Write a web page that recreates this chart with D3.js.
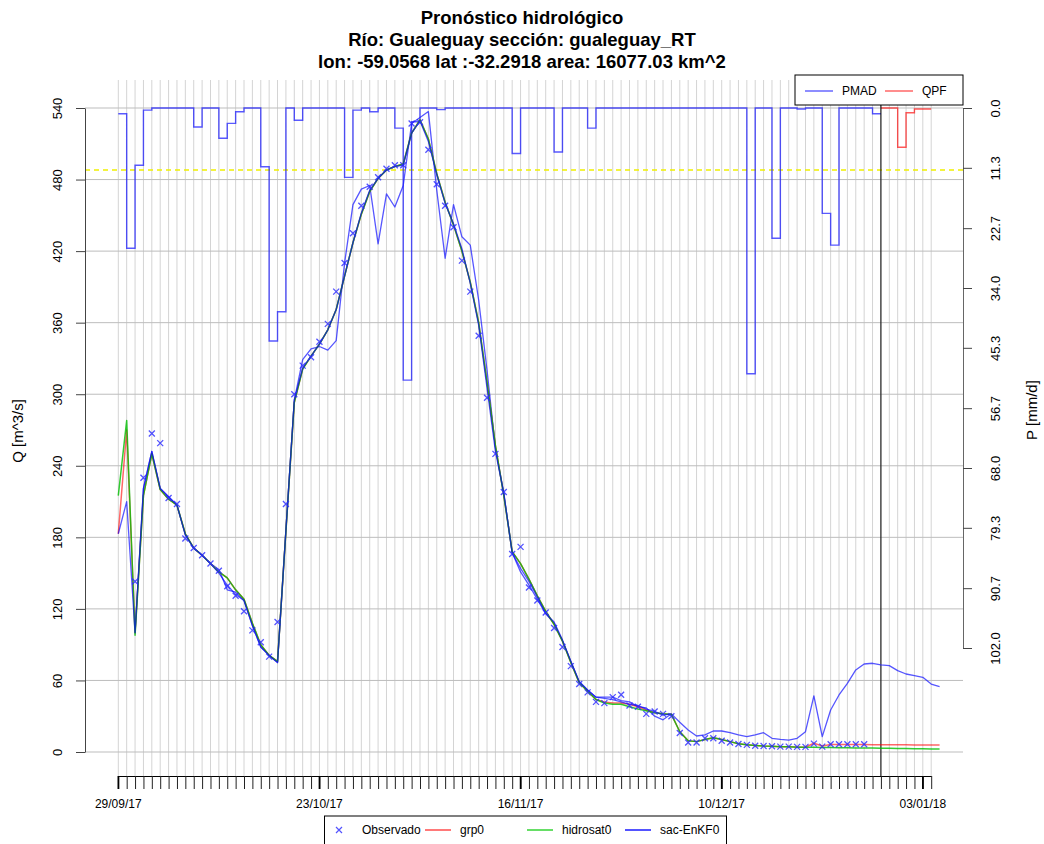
<!DOCTYPE html>
<html><head><meta charset="utf-8">
<script src="https://cdn.jsdelivr.net/npm/d3@7"></script>
<style>body{margin:0;background:#fff}text{font-family:"Liberation Sans",Arial,Helvetica,sans-serif}</style>
</head><body><svg id="c" width="1044" height="844"></svg>
<script>
// ---------------- data ----------------
const titleLines = ["Pronóstico hidrológico", "Río: Gualeguay sección: gualeguay_RT", "lon: -59.0568 lat :-32.2918 area: 16077.03 km^2"];
const startDate = Date.UTC(2017, 8, 29);
const lastGridDay = 97;
const tickDays = [0, 24, 48, 72, 96];
const tickLabels = ["29/09/17", "23/10/17", "16/11/17", "10/12/17", "03/01/18"];
const qTicks = [0, 60, 120, 180, 240, 300, 360, 420, 480, 540];
const pTicks = [0.0, 11.3, 22.7, 34.0, 45.3, 56.7, 68.0, 79.3, 90.7, 102.0];
const alertQ = 488;
const forecastDay = 91;
// PMAD daily precipitation, day 0..90
const pmad = [1.1, 26.5, 10.8, 0.4, 0, 0, 0, 0, 0, 3.6,
  0, 0, 5.7, 2.9, 0.7, 0, 0, 11.1, 44.0, 38.5,
  0, 2.3, 0, 0, 0, 0, 0, 13.1, 0.4, 0,
  0.7, 0, 0, 3.8, 51.4, 2.6, 0, 0, 0.3, 0,
  0, 0, 0, 0, 0, 0, 0, 8.6, 0, 0,
  0, 0, 8.3, 0, 0, 0, 3.8, 0, 0, 0,
  0, 0, 0, 0, 0, 0, 0, 0, 0, 0,
  0, 0, 0, 0, 0, 50.2, 0, 0, 24.6, 0,
  0, 0.2, 0, 0, 19.9, 25.9, 0, 0, 0, 0,
  1.1];
// QPF forecast precipitation, day 91..96
const qpfStart = 91;
const qpf = [0, 0, 7.4, 0.9, 0.2, 0.2];
// Observed discharge, day 0..89
const observado = [null, null, 143, 230, 267, 259, 213, 208, 179, 171,
  165, 158, 152, 139, 131, 118, 102, 92, 80, 109,
  208, 300, 324, 331, 344, 359, 386, 410, 435, 458,
  474, 482, 489, 492, 492, 527, 528, 505, 476, 458,
  440, 412, 386, 349, 297, 250, 218, 166, 172, 138,
  127, 117, 104, 88, 72, 57, 50, 42, 41, 46,
  48, 39, 38, 32, 34, 32, 30, 16, 8, 8,
  11.5, 11.5, 9.5, 8, 6.7, 6, 5.3, 5, 4.8, 4.5,
  4.5, 4.3, 4.3, 7, 4.5, 6.5, 6.5, 6.5, 6.5, 6.5];
// grp0, day 0..98
const grp0 = [183, 270, 100, 215, 250, 220, 212, 207, 183, 171,
  165, 158, 151, 146, 136, 128, 108, 90, 81, 76,
  185, 293, 321, 332, 342, 354, 371, 399, 427, 451,
  470, 481, 488, 491, 493, 519, 530, 514, 485, 461,
  442, 420, 394, 360, 310, 257, 215, 168, 158, 145,
  131, 118, 107, 93, 75, 58, 51, 44, 42, 41,
  41, 40, 38, 35, 33, 32, 31.5, 17, 9.5, 8.7,
  10.5, 12, 10.5, 8.7, 7, 6, 5.5, 5, 4.8, 4.5,
  4.3, 4.1, 4.0, 7.3, 5.0, 6.3, 6.3, 6.2, 6.2, 6.2,
  6.1, 6.1, 6.0, 6.0, 6.0, 5.9, 5.9, 5.9, 5.8];
// hidrosat0, day 0..98
const hidrosat0 = [215, 278, 98, 215, 250, 220, 212, 207, 183, 171,
  165, 158, 151, 146, 136, 128, 108, 90, 81, 76,
  185, 293, 321, 332, 342, 354, 371, 399, 427, 451,
  470, 481, 488, 491, 493, 519, 530, 514, 485, 461,
  442, 420, 394, 360, 310, 257, 215, 168, 158, 145,
  131, 118, 107, 93, 75, 58, 51, 44, 41, 40,
  40, 38, 36, 34.5, 33, 32, 31.5, 17, 9.5, 8.7,
  10.5, 12, 10.5, 8.7, 7, 6, 5.5, 5, 4.8, 4.5,
  4.3, 4.0, 3.9, 3.9, 3.8, 3.7, 3.6, 3.5, 3.4, 3.4,
  3.3, 3.2, 3.1, 3.0, 2.9, 2.8, 2.7, 2.6, 2.5];
// sac-EnKF0 (assimilated), day 0..66
const sacEnKF0 = [183, 210, 100, 221, 252, 221, 214, 207, 182, 171,
  165, 158, 150, 140, 132, 127, 106, 88, 81, 75,
  186, 295, 322, 332, 342, 354, 371, 399, 427, 452,
  471, 481, 488, 491, 492, 519, 529, 512, 484, 460,
  443, 422, 393, 358, 305, 252, 217, 167, 154, 143,
  130, 116, 109, 94, 76, 59, 52, 46, 45, 44,
  42, 40, 39, 36, 34, 31, 32];
// sac-EnKF0 simulation, day 2..98
const sacSimStart = 2;
const sacSim = [100, 221, 252, 221, 214, 207, 182, 171,
  165, 158, 153, 136, 134, 127, 106, 88, 81, 75,
  186, 295, 329, 338, 340, 337, 345, 410, 459, 472,
  475, 426, 468, 457, 475, 527, 532, 537, 471, 414,
  459, 432, 425, 379, 320, 255, 217, 167, 151, 140,
  128, 116, 108, 93, 76, 59, 52, 46, 46, 46,
  43, 42, 38, 37, 30, 27, 32, 25, 18.4, 13.4,
  14.3, 17.6, 17.6, 16.2, 14.3, 12.9, 14.3, 16.2, 11.5, 10.6,
  10, 11.5, 17, 47, 12.9, 35.2, 47.8, 57.6, 68.8, 73.8,
  74.4, 73, 72.4, 68.2, 65.4, 64, 62.6, 57, 54.8];

// ---------------- drawing ----------------
const svg = d3.select("#c");
const dayDate = d => new Date(startDate + d * 864e5);
const x = d3.scaleUtc().domain([dayDate(0), dayDate(lastGridDay)]).range([118.3, 931.2]);
const yQ = d3.scaleLinear().domain([0, 540]).range([752, 108]);
const yP = d3.scaleLinear().domain([0, 102]).range([108, 648]);
const leftX = 85, rightX = 963, axisY = 776;
const font = "'Liberation Sans',Arial,Helvetica,sans-serif";

// title
svg.append("g").selectAll("text").data(titleLines).join("text")
  .attr("x", 522).attr("y", (d, i) => 24 + i * 22)
  .attr("text-anchor", "middle").attr("font-weight", "bold")
  .attr("font-size", 18.5).text(d => d);

// vertical grid
const days = d3.range(0, lastGridDay + 1);
svg.append("g").selectAll("line").data(days).join("line")
  .attr("x1", d => x(dayDate(d))).attr("x2", d => x(dayDate(d)))
  .attr("y1", 80).attr("y2", axisY)
  .attr("stroke", "#d4d4d4").attr("stroke-width", 1);
// horizontal grid
svg.append("g").selectAll("line").data(qTicks).join("line")
  .attr("x1", leftX).attr("x2", rightX)
  .attr("y1", d => yQ(d)).attr("y2", d => yQ(d))
  .attr("stroke", "#bdbdbd").attr("stroke-width", 1);

// alert line
svg.append("line").attr("x1", leftX).attr("x2", rightX)
  .attr("y1", yQ(alertQ)).attr("y2", yQ(alertQ))
  .attr("stroke", "#f0f000").attr("stroke-width", 1.3).attr("stroke-dasharray", "5,4");

// precipitation steps
const stepLine = d3.line().x(d => x(dayDate(d[0]))).y(d => yP(d[1])).curve(d3.curveStepAfter);
const pmadPts = pmad.map((v, i) => [i, v]);
pmadPts.push([pmad.length, pmad[pmad.length - 1]]);
svg.append("path").attr("d", stepLine(pmadPts)).attr("fill", "none")
  .attr("stroke", "rgba(0,0,255,0.65)").attr("stroke-width", 1.4);
const qpfPts = qpf.map((v, i) => [qpfStart + i, v]);
qpfPts.push([qpfStart + qpf.length, qpf[qpf.length - 1]]);
svg.append("path").attr("d", stepLine(qpfPts)).attr("fill", "none")
  .attr("stroke", "rgba(255,0,0,0.65)").attr("stroke-width", 1.4);

// forecast time
svg.append("line").attr("x1", x(dayDate(forecastDay))).attr("x2", x(dayDate(forecastDay)))
  .attr("y1", 80).attr("y2", axisY).attr("stroke", "#000").attr("stroke-width", 1);

// discharge lines
const qLine = d3.line().defined(d => d[1] != null).x(d => x(dayDate(d[0]))).y(d => yQ(d[1]));
function drawQ(arr, start, color, w) {
  svg.append("path").attr("d", qLine(arr.map((v, i) => [start + i, v])))
    .attr("fill", "none").attr("stroke", color).attr("stroke-width", w).attr("stroke-linejoin", "round");
}
drawQ(sacSim, sacSimStart, "rgba(30,30,255,0.75)", 1.3);
drawQ(grp0, 0, "rgba(255,0,0,0.6)", 1.5);
drawQ(hidrosat0, 0, "rgba(0,190,0,0.8)", 1.5);
drawQ(sacEnKF0, 0, "rgba(0,0,255,0.65)", 1.3);

// observed markers
const obsPts = observado.map((v, i) => [i, v]).filter(d => d[1] != null);
const cross = s => `M${-s},${-s}L${s},${s}M${-s},${s}L${s},${-s}`;
svg.append("g").selectAll("path").data(obsPts).join("path")
  .attr("transform", d => `translate(${x(dayDate(d[0]))},${yQ(d[1])})`)
  .attr("d", cross(3)).attr("stroke", "rgba(40,40,255,0.8)").attr("stroke-width", 1.3).attr("fill", "none");

// left axis
const gl = svg.append("g").attr("transform", `translate(${leftX},0)`)
  .call(d3.axisLeft(yQ).tickValues(qTicks).tickSize(9).tickSizeOuter(0).tickFormat(d3.format("d")));
gl.select(".domain").attr("stroke", "#444");
gl.selectAll(".tick line").attr("stroke", "#444");
gl.selectAll(".tick text").attr("x", null).attr("dy", null)
  .attr("transform", "translate(-23,0) rotate(-90)").attr("text-anchor", "middle")
  .attr("font-size", 13).attr("font-family", font).attr("fill", "#000");

// right axis
const gr = svg.append("g").attr("transform", `translate(${rightX},0)`)
  .call(d3.axisRight(yP).tickValues(pTicks).tickSize(9).tickSizeOuter(0).tickFormat(d3.format(".1f")));
gr.select(".domain").attr("stroke", "#666");
gr.selectAll(".tick line").attr("stroke", "#444");
gr.selectAll(".tick text").attr("x", null).attr("dy", null)
  .attr("transform", "translate(37,0) rotate(-90)").attr("text-anchor", "middle")
  .attr("font-size", 13).attr("font-family", font).attr("fill", "#000");

// bottom axis (daily ticks, labels every 24 days)
const gb = svg.append("g").attr("transform", `translate(0,${axisY})`)
  .call(d3.axisBottom(x).tickValues(days.map(dayDate)).tickSize(13).tickSizeOuter(0).tickFormat(""));
gb.select(".domain").attr("stroke", "#000").attr("stroke-width", 1.2);
gb.selectAll(".tick line").attr("stroke", "#222");
svg.append("g").selectAll("text").data(tickDays).join("text")
  .attr("x", d => x(dayDate(d))).attr("y", 808).attr("text-anchor", "middle")
  .attr("font-size", 12).text((d, i) => tickLabels[i]);
svg.append("g").selectAll("line").data(tickDays).join("line")
  .attr("x1", d => x(dayDate(d))).attr("x2", d => x(dayDate(d)))
  .attr("y1", axisY).attr("y2", axisY + 13).attr("stroke", "#000").attr("stroke-width", 1.6);

// axis titles
svg.append("text").attr("transform", "translate(23,431) rotate(-90)").attr("text-anchor", "middle")
  .attr("font-size", 15).text("Q [m^3/s]");
svg.append("text").attr("transform", "translate(1037,410) rotate(-90)").attr("text-anchor", "middle")
  .attr("font-size", 15).text("P [mm/d]");

// top legend
const lt = svg.append("g");
lt.append("rect").attr("x", 795).attr("y", 75).attr("width", 168).attr("height", 30)
  .attr("fill", "#fff").attr("stroke", "#000");
[["PMAD", "rgba(0,0,255,0.6)", 805], ["QPF", "rgba(255,0,0,0.6)", 885]].forEach(([t, c, x0]) => {
  lt.append("line").attr("x1", x0).attr("x2", x0 + 28).attr("y1", 91).attr("y2", 91).attr("stroke", c).attr("stroke-width", 1.5);
  lt.append("text").attr("x", x0 + 37).attr("y", 95).attr("font-size", 12).text(t);
});

// bottom legend
const lb = svg.append("g");
lb.append("rect").attr("x", 324.5).attr("y", 816).attr("width", 402).attr("height", 40)
  .attr("fill", "#fff").attr("stroke", "#000");
lb.append("path").attr("transform", "translate(339,830)").attr("d", cross(3))
  .attr("stroke", "rgba(40,40,255,0.8)").attr("stroke-width", 1.2);
lb.append("text").attr("x", 362).attr("y", 834).attr("font-size", 12).text("Observado");
[["grp0", "rgba(255,0,0,0.7)", 425], ["hidrosat0", "rgba(0,200,0,0.8)", 527], ["sac-EnKF0", "rgba(0,0,255,0.9)", 625]].forEach(([t, c, x0]) => {
  lb.append("line").attr("x1", x0).attr("x2", x0 + 26).attr("y1", 830).attr("y2", 830).attr("stroke", c).attr("stroke-width", 1.5);
  lb.append("text").attr("x", x0 + 35).attr("y", 834).attr("font-size", 12).text(t);
});
</script></body></html>
